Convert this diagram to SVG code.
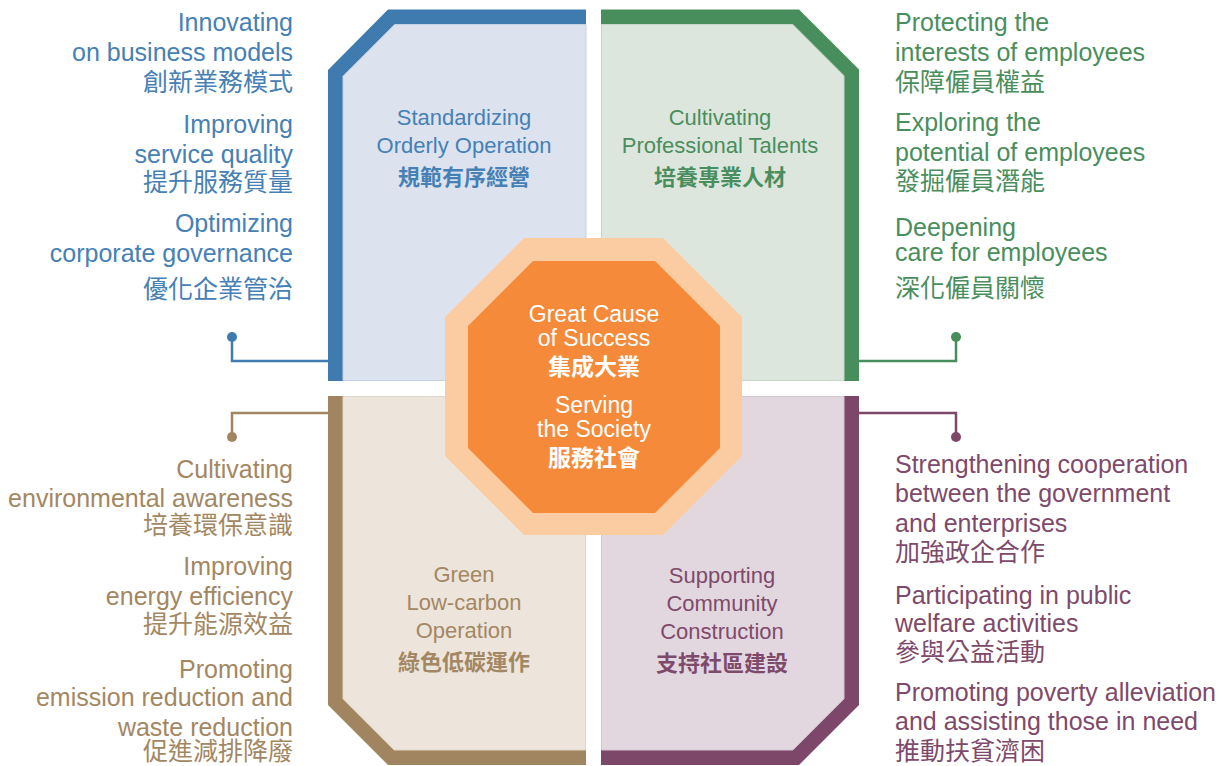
<svg xmlns="http://www.w3.org/2000/svg" width="1226" height="766" viewBox="0 0 1226 766">
<style>
text{font-family:"Liberation Sans","Noto Sans CJK TC",sans-serif}
.side{font-size:25px}
.title{font-size:22px;text-anchor:middle}
.cjk{font-family:"Noto Sans CJK TC","Liberation Sans",sans-serif}
.tb{font-weight:bold}
.r{text-anchor:end}
.blue{fill:#4680B5}
.green{fill:#4A8E5E}
.tan{fill:#A38763}
.purple{fill:#7E4A6B}
.center{font-size:23px;fill:#ffffff;text-anchor:middle}
.conn{fill:none;stroke-width:2.5}
</style>
<rect width="1226" height="766" fill="#ffffff"/>

<g id="q-standardizing">
<polygon points="328,70 388,9.5 586,9.5 586,381 328,381" fill="#3F7BAF"/>
<polygon points="343,76.2 394.7,24.5 586,24.5 586,380.5 343,380.5" fill="#DCE3EE" stroke="#C3D1E4" stroke-width="1"/>
<text class="title blue" x="464" y="125">Standardizing</text>
<text class="title blue" x="464" y="153">Orderly Operation</text>
<text class="title blue cjk tb" x="464" y="185">規範有序經營</text>
</g>

<g id="q-cultivating">
<polygon points="601,9.5 799,9.5 859,69.5 859,381 601,381" fill="#488D5C"/>
<polygon points="601.5,24.5 792.8,24.5 844,75.7 844,380.5 601.5,380.5" fill="#DDE6DD" stroke="#C6D6C8" stroke-width="1"/>
<text class="title green" x="720" y="125">Cultivating</text>
<text class="title green" x="720" y="153">Professional Talents</text>
<text class="title green cjk tb" x="720" y="185">培養專業人材</text>
</g>

<g id="q-green">
<polygon points="328,396 586,396 586,765 388,765 328,705" fill="#A08560"/>
<polygon points="343,396.5 585.5,396.5 585.5,750 394.2,750 343,698.8" fill="#EDE5DB" stroke="#E0D5C8" stroke-width="1"/>
<text class="title tan" x="464" y="582">Green</text>
<text class="title tan" x="464" y="610">Low-carbon</text>
<text class="title tan" x="464" y="638">Operation</text>
<text class="title tan cjk tb" x="464" y="670">綠色低碳運作</text>
</g>

<g id="q-supporting">
<polygon points="601,396 859,396 859,705 799,765 601,765" fill="#7C4768"/>
<polygon points="601.5,396.5 844,396.5 844,698.8 792.8,750 601.5,750" fill="#E3D7DF" stroke="#D5C3CF" stroke-width="1"/>
<text class="title purple" x="722" y="583">Supporting</text>
<text class="title purple" x="722" y="611">Community</text>
<text class="title purple" x="722" y="639">Construction</text>
<text class="title purple cjk tb" x="722" y="671">支持社區建設</text>
</g>

<g id="center">
<polygon points="524,238 663,238 742,317 742,456 663,535 524,535 445,456 445,317" fill="#FBCBA2"/>
<polygon points="533,261 655,261 720,326 720,448 655,513 533,513 468,448 468,326" fill="#F48A3A"/>
<text class="center" x="594" y="322">Great Cause</text>
<text class="center" x="594" y="346">of Success</text>
<text class="center cjk tb" x="594" y="375">集成大業</text>
<text class="center" x="594" y="413">Serving</text>
<text class="center" x="594" y="437">the Society</text>
<text class="center cjk tb" x="594" y="466">服務社會</text>
</g>

<g id="connectors">
<path class="conn" d="M232,337 V361 H328" stroke="#3F7BAF"/>
<circle cx="232" cy="337" r="5" fill="#3F7BAF"/>
<path class="conn" d="M232,437 V413 H328" stroke="#A08560"/>
<circle cx="232" cy="437" r="5" fill="#A08560"/>
<path class="conn" d="M956,337 V361 H859" stroke="#488D5C"/>
<circle cx="956" cy="337" r="5" fill="#488D5C"/>
<path class="conn" d="M956,437 V413 H859" stroke="#7C4768"/>
<circle cx="956" cy="437" r="5" fill="#7C4768"/>
</g>

<g id="list-blue">
<text class="side r blue" x="293" y="31">Innovating</text>
<text class="side r blue" x="293" y="61">on business models</text>
<text class="side r blue cjk" x="293" y="91">創新業務模式</text>
<text class="side r blue" x="293" y="133">Improving</text>
<text class="side r blue" x="293" y="163">service quality</text>
<text class="side r blue cjk" x="293" y="191">提升服務質量</text>
<text class="side r blue" x="293" y="232">Optimizing</text>
<text class="side r blue" x="293" y="262">corporate governance</text>
<text class="side r blue cjk" x="293" y="298">優化企業管治</text>
</g>

<g id="list-green">
<text class="side green" x="895" y="31">Protecting the</text>
<text class="side green" x="895" y="61">interests of employees</text>
<text class="side green cjk" x="895" y="91">保障僱員權益</text>
<text class="side green" x="895" y="131">Exploring the</text>
<text class="side green" x="895" y="161">potential of employees</text>
<text class="side green cjk" x="895" y="190">發掘僱員潛能</text>
<text class="side green" x="895" y="236">Deepening</text>
<text class="side green" x="895" y="261">care for employees</text>
<text class="side green cjk" x="895" y="297">深化僱員關懷</text>
</g>

<g id="list-tan">
<text class="side r tan" x="293" y="478">Cultivating</text>
<text class="side r tan" x="293" y="507">environmental awareness</text>
<text class="side r tan cjk" x="293" y="534">培養環保意識</text>
<text class="side r tan" x="293" y="575">Improving</text>
<text class="side r tan" x="293" y="605">energy efficiency</text>
<text class="side r tan cjk" x="293" y="633">提升能源效益</text>
<text class="side r tan" x="293" y="678">Promoting</text>
<text class="side r tan" x="293" y="706">emission reduction and</text>
<text class="side r tan" x="293" y="736">waste reduction</text>
<text class="side r tan cjk" x="293" y="760">促進減排降廢</text>
</g>

<g id="list-purple">
<text class="side purple" x="895" y="473">Strengthening cooperation</text>
<text class="side purple" x="895" y="502">between the government</text>
<text class="side purple" x="895" y="532">and enterprises</text>
<text class="side purple cjk" x="895" y="561">加強政企合作</text>
<text class="side purple" x="895" y="604">Participating in public</text>
<text class="side purple" x="895" y="632">welfare activities</text>
<text class="side purple cjk" x="895" y="661">參與公益活動</text>
<text class="side purple" x="895" y="701">Promoting poverty alleviation</text>
<text class="side purple" x="895" y="730">and assisting those in need</text>
<text class="side purple cjk" x="895" y="760">推動扶貧濟困</text>
</g>
</svg>
